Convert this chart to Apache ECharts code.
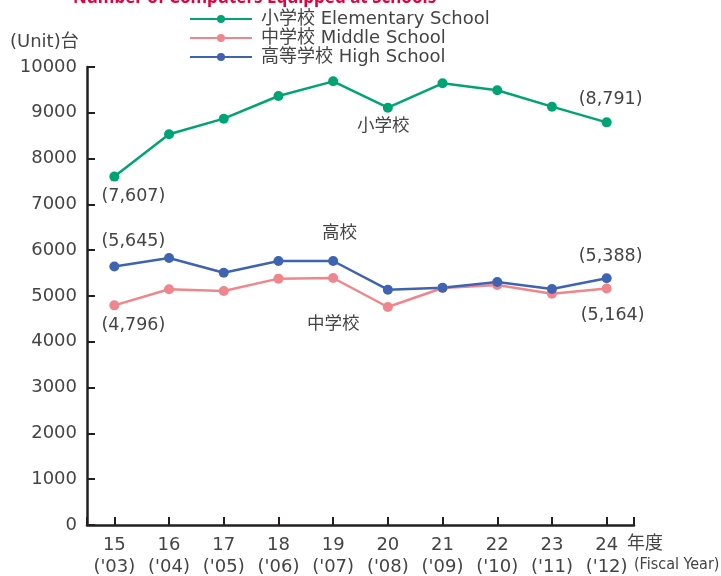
<!DOCTYPE html>
<html><head><meta charset="utf-8">
<script src="https://cdn.jsdelivr.net/npm/echarts@6/dist/echarts.min.js"></script>
<style>html,body{margin:0;padding:0;background:#fff}#c{width:721px;height:576px}</style>
</head><body><div id="c"></div>
<script>
const years = ['15', '16', '17', '18', '19', '20', '21', '22', '23', '24'];
const westernYears = ["('03)", "('04)", "('05)", "('06)", "('07)", "('08)", "('09)", "('10)", "('11)", "('12)"];
const elementary = [7607, 8530, 8872, 9367, 9687, 9112, 9644, 9491, 9134, 8791];
const middle = [4796, 5146, 5109, 5379, 5393, 4760, 5175, 5240, 5051, 5164];
const high = [5645, 5830, 5509, 5764, 5764, 5138, 5182, 5306, 5153, 5388];
const yTicks = [0, 1000, 2000, 3000, 4000, 5000, 6000, 7000, 8000, 9000, 10000];
const seriesNames = ['小学校 Elementary School', '中学校 Middle School', '高等学校 High School'];

const FONT = "'DejaVu Sans', 'Noto Sans CJK JP', sans-serif";
const TXT = '#444';
const chart = echarts.init(document.getElementById('c'), null, {renderer: 'canvas'});

function fmt(v) { return '(' + v.toLocaleString('en-US') + ')'; }
function withEndLabels(arr, firstPos, firstOff, lastPos, lastOff) {
  return arr.map((v, i) => {
    if (i === 0) return {value: v, label: {show: true, position: firstPos, offset: firstOff, formatter: fmt(v)}};
    if (i === arr.length - 1) return {value: v, label: {show: true, position: lastPos, offset: lastOff, formatter: fmt(v)}};
    return v;
  });
}
const lbl = {color: TXT, fontSize: 17.5, fontFamily: FONT, distance: 6};

chart.setOption({
  animation: false,
  title: {
    text: 'Number of Computers Equipped at Schools',
    left: 68, top: -15,
    textStyle: {color: '#e6003c', fontSize: 17, fontWeight: 'bold', fontFamily: "'Noto Sans', sans-serif"}
  },
  legend: {
    orient: 'vertical', left: 184, top: 5, itemWidth: 62, itemHeight: 10, itemGap: 1,
    textStyle: {color: TXT, fontSize: 18, lineHeight: 18, fontFamily: FONT, padding: [0, 0, 0, 4]},
    data: seriesNames
  },
  grid: {left: 87, right: 87, top: 67, bottom: 51, containLabel: false, outerBoundsMode: 'none'},
  xAxis: [{
    type: 'category', data: years.map((y, i) => y + '\n' + westernYears[i]), boundaryGap: true,
    axisLine: {lineStyle: {color: '#231f20', width: 2.5}},
    axisTick: {show: true, inside: true, alignWithLabel: true, length: 8, lineStyle: {color: '#231f20', width: 2}},
    axisLabel: {color: TXT, fontSize: 18, fontFamily: FONT, lineHeight: 22, margin: 9}
  }, {
    type: 'category', data: [''], boundaryGap: true, position: 'bottom',
    axisLine: {show: false},
    axisTick: {show: true, inside: true, length: 8, lineStyle: {color: '#231f20', width: 2}},
    axisLabel: {show: false}
  }],
  yAxis: {
    type: 'value', min: yTicks[0], max: yTicks[yTicks.length - 1], interval: 1000,
    axisLine: {show: true, lineStyle: {color: '#231f20', width: 2.5}},
    axisTick: {show: true, inside: true, length: 8, lineStyle: {color: '#231f20', width: 2}},
    axisLabel: {color: TXT, fontSize: 18, fontFamily: FONT, margin: 10, formatter: v => String(v)},
    splitLine: {show: false}
  },
  series: [{
    name: seriesNames[0], type: 'line', data: withEndLabels(elementary, 'bottom', [19, 0], 'top', [4, -3]),
    color: '#00a474', lineStyle: {width: 2.5}, symbol: 'circle', symbolSize: 10, label: lbl
  }, {
    name: seriesNames[1], type: 'line', data: withEndLabels(middle, 'bottom', [19, 0], 'bottom', [6, 7]),
    color: '#f0868c', lineStyle: {width: 2.5}, symbol: 'circle', symbolSize: 10, label: lbl
  }, {
    name: seriesNames[2], type: 'line', data: withEndLabels(high, 'top', [19, -5], 'top', [4, -2]),
    color: '#3e63b2', lineStyle: {width: 2.5}, symbol: 'circle', symbolSize: 10, label: lbl
  }],
  graphic: [
    {type: 'text', left: 10, top: 33, style: {text: '(Unit)台', fill: TXT, fontSize: 18, fontFamily: FONT}},
    {type: 'text', left: 357, top: 118, style: {text: '小学校', fill: TXT, fontSize: 17.5, fontFamily: FONT}},
    {type: 'text', left: 322, top: 225, style: {text: '高校', fill: TXT, fontSize: 17.5, fontFamily: FONT}},
    {type: 'text', left: 307, top: 316, style: {text: '中学校', fill: TXT, fontSize: 17.5, fontFamily: FONT}},
    {type: 'text', left: 627, top: 535, style: {text: '年度', fill: TXT, fontSize: 18, fontFamily: FONT}},
    {type: 'text', left: 634, top: 557, style: {text: '(Fiscal Year)', fill: TXT, fontSize: 16, fontFamily: "'Liberation Sans Narrow', 'DejaVu Sans Condensed', sans-serif"}}
  ]
});
</script></body></html>
